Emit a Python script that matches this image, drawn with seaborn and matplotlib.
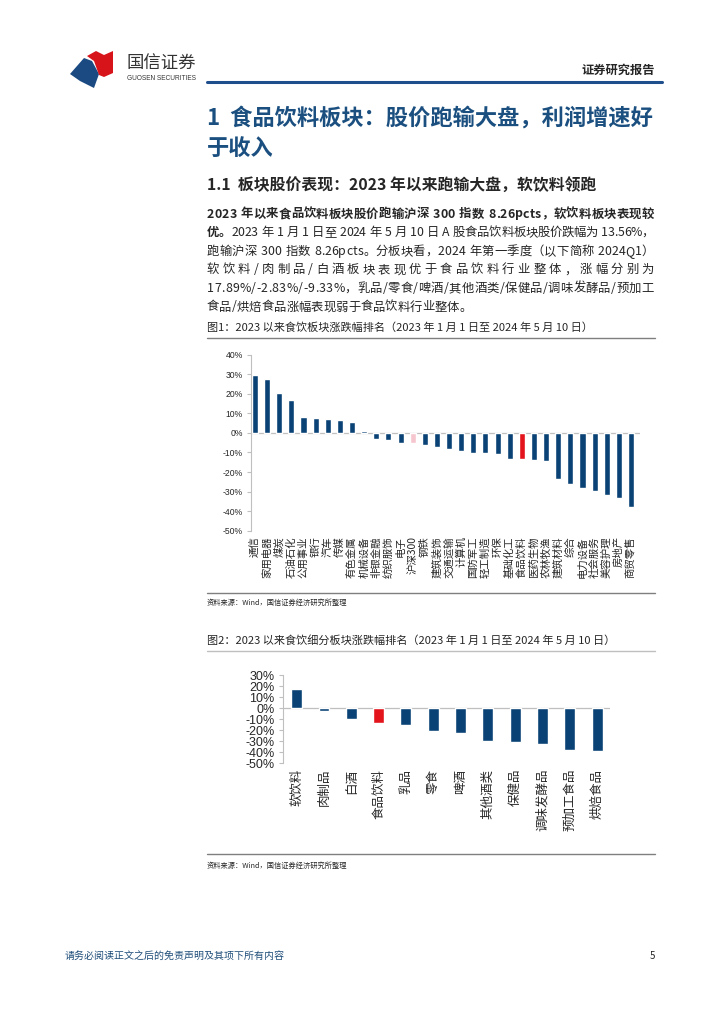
import matplotlib
matplotlib.use("Agg")
import matplotlib.pyplot as plt
from matplotlib.lines import Line2D
from matplotlib.patches import Polygon
import seaborn as sns

# chart 1: industry returns since 2023 (%)
industries = ["通信", "家用电器", "煤炭", "石油石化", "公用事业", "银行", "汽车", "传媒",
              "有色金属", "机械设备", "非银金融", "纺织服饰", "电子", "沪深300", "钢铁",
              "建筑装饰", "交通运输", "计算机", "国防军工", "轻工制造", "环保", "基础化工",
              "食品饮料", "医药生物", "农林牧渔", "建筑材料", "综合", "电力设备", "社会服务",
              "美容护理", "房地产", "商贸零售"]
industry_returns = [29.8, 27.3, 20.5, 16.8, 8.1, 7.8, 6.9, 6.6, 5.4, 0.8, -2.9, -3.7,
                    -5.2, -5.3, -6.3, -7.1, -8.3, -9.2, -10.5, -10.5, -11.0, -13.4,
                    -13.56, -14.1, -14.6, -23.6, -26.1, -28.3, -29.5, -32.0, -33.4, -38.0]

# chart 2: food & beverage segments (%)
segments = ["软饮料", "肉制品", "白酒", "食品饮料", "乳品", "零食", "啤酒", "其他酒类",
            "保健品", "调味发酵品", "预加工食品", "烘焙食品"]
segment_returns = [17.89, -2.83, -9.33, -13.56, -15.2, -20.6, -22.7, -29.4, -30.9,
                   -32.1, -37.9, -38.8]

y1_ticks = [40, 30, 20, 10, 0, -10, -20, -30, -40, -50]
y2_ticks = [30, 20, 10, 0, -10, -20, -30, -40, -50]

# body paragraph, one entry per printed line: (text, weight) pieces
body_lines = [
    [("2023 年以来食品饮料板块股价跑输沪深 300 指数 8.26pcts，软饮料板块表现较", "bold")],
    [("优。", "bold"), ("2023 年 1 月 1 日至 2024 年 5 月 10 日 A 股食品饮料板块股价跌幅为 13.56%，", "normal")],
    [("跑输沪深 300 指数 8.26pcts。分板块看，2024 年第一季度（以下简称 2024Q1）", "normal")],
    [("软饮料/肉制品/白酒板块表现优于食品饮料行业整体，涨幅分别为", "normal")],
    [("17.89%/-2.83%/-9.33%，乳品/零食/啤酒/其他酒类/保健品/调味发酵品/预加工", "normal")],
    [("食品/烘焙食品涨幅表现弱于食品饮料行业整体。", "normal")],
]

NAVY = "#0b4275"
RED = "#e3141c"
PINK = "#f6c6ce"
TITLE_BLUE = "#1a4f80"
W, H = 724, 1024


def fx(x):
    return x / W


def fy(y):
    return 1 - y / H


def bar_colors(labels):
    cmap = {"沪深300": PINK, "食品饮料": RED}
    return {lab: cmap.get(lab, NAVY) for lab in labels}


def draw_bars(ax, labels, values, width, xlim, ylim, ticks, tick_size, label_size):
    sns.barplot(x=labels, y=values, hue=labels, palette=bar_colors(labels),
                order=labels, hue_order=labels, legend=False, width=width,
                saturation=1, ax=ax, zorder=2)
    ax.axhline(0, color="#bfbfbf", lw=0.9, zorder=1)
    ax.set_xlim(*xlim)
    ax.set_ylim(*ylim)
    ax.set_yticks(ticks)
    ax.set_yticklabels([f"{t}%" for t in ticks], fontsize=tick_size,
                       family=["Liberation Sans", "DejaVu Sans"])
    ax.set_xticks(range(len(labels)))
    ax.set_xticklabels(labels, rotation=90, fontsize=label_size)
    ax.tick_params(axis="x", length=0, pad=4)
    ax.tick_params(axis="y", length=3, color="#bfbfbf", width=0.8, pad=3, direction="out", left=True)
    for side in ["top", "right", "bottom"]:
        ax.spines[side].set_visible(False)
    ax.spines["left"].set_color("#bfbfbf")
    ax.spines["left"].set_linewidth(0.8)
    ax.set_xlabel("")
    ax.set_ylabel("")
    ax.grid(False)
    ax.set_facecolor("none")


def hline(fig, x0, x1, y, color, lw):
    fig.add_artist(Line2D([fx(x0), fx(x1)], [fy(y), fy(y)], transform=fig.transFigure,
                          color=color, lw=lw))


def text_line(fig, pieces, y, x0, x1, fs, justify):
    # lay the line out one character at a time so it can be stretched to the margins
    renderer = fig.canvas.get_renderer()
    chars = []
    for txt, weight in pieces:
        for ch in txt:
            t = fig.text(0, fy(y), ch, fontsize=fs, fontweight=weight, va="center")
            w = t.get_window_extent(renderer).width if ch != " " else fs * 100 / 72 * 0.3
            chars.append((t, w))
    total = sum(w for _, w in chars)
    gap = (x1 - x0 - total) / (len(chars) - 1) if justify else 0.0
    x = x0
    for t, w in chars:
        t.set_x(fx(x))
        x += w + gap


def main():
    sns.set_theme(style="white")
    plt.rcParams["font.family"] = ["Noto Sans CJK SC", "DejaVu Sans"]
    plt.rcParams["axes.unicode_minus"] = False

    fig = plt.figure(figsize=(W / 100, H / 100), dpi=100)
    fig.patch.set_facecolor("white")

    # header: logo, company name, report tag, blue rule
    blue_shape = [(70, 74), (84, 58), (92, 61), (99, 74), (94, 88), (88, 85), (80, 81)]
    red_shape = [(87, 56), (96, 51), (104, 55), (113, 51), (113, 73), (104, 77), (99, 75), (94, 61)]
    fig.add_artist(Polygon([(fx(x), fy(y)) for x, y in blue_shape], closed=True,
                           transform=fig.transFigure, color="#1b4a82", lw=0))
    fig.add_artist(Polygon([(fx(x), fy(y)) for x, y in red_shape], closed=True,
                           transform=fig.transFigure, color="#d7141a", lw=0))
    fig.text(fx(126), fy(64), "国信证券", fontsize=12.5, fontweight="medium", color="#333333", va="center")
    fig.text(fx(127), fy(79), "GUOSEN SECURITIES", fontsize=4.7, color="#333333", va="center",
             family=["Liberation Sans"])
    fig.text(fx(655), fy(70), "证券研究报告", fontsize=8.8, fontweight="bold", ha="right", va="center")
    hline(fig, 207, 662, 82, "#1f4e8c", 2.2)

    # headings
    fig.text(fx(207), fy(118), "1  食品饮料板块：股价跑输大盘，利润增速好", fontsize=16,
             fontweight="bold", color=TITLE_BLUE, va="center")
    fig.text(fx(207), fy(148), "于收入", fontsize=16, fontweight="bold", color=TITLE_BLUE, va="center")
    fig.text(fx(207), fy(186), "1.1  板块股价表现：2023 年以来跑输大盘，软饮料领跑", fontsize=11.4,
             fontweight="bold", va="center")

    # body paragraph
    for i, pieces in enumerate(body_lines):
        last = i == len(body_lines) - 1
        text_line(fig, pieces, 214 + 18.6 * i, 207, 654, 8.9, justify=not last)

    # figure 1
    fig.text(fx(207), fy(328), "图1：2023 以来食饮板块涨跌幅排名（2023 年 1 月 1 日至 2024 年 5 月 10 日）",
             fontsize=8.0, va="center")
    hline(fig, 207, 655, 338, "#7f7f7f", 1.0)
    ax1 = fig.add_axes([fx(251), fy(530.7), (640 - 251) / W, (530.7 - 354.6) / H])
    draw_bars(ax1, industries, industry_returns, 0.5, (-0.33, 31.74), (-50, 40), y1_ticks, 6.2, 7.5)
    hline(fig, 207, 655, 593, "#7f7f7f", 1.0)
    fig.text(fx(207), fy(603), "资料来源：Wind，国信证券经济研究所整理", fontsize=5.2, va="center")

    # figure 2
    fig.text(fx(207), fy(640), "图2：2023 以来食饮细分板块涨跌幅排名（2023 年 1 月 1 日至 2024 年 5 月 10 日）",
             fontsize=8.0, va="center")
    hline(fig, 207, 655, 651, "#bfbfbf", 1.0)
    ax2 = fig.add_axes([fx(283), fy(763.3), (610 - 283) / W, (763.3 - 675.3) / H])
    draw_bars(ax2, segments, segment_returns, 0.4, (-0.5, 11.47), (-50, 30), y2_ticks, 9, 9)
    hline(fig, 207, 655, 854, "#7f7f7f", 1.0)
    fig.text(fx(207), fy(866), "资料来源：Wind，国信证券经济研究所整理", fontsize=5.2, va="center")

    # footer
    fig.text(fx(65), fy(956), "请务必阅读正文之后的免责声明及其项下所有内容", fontsize=7.2,
             color="#1f4e79", va="center")
    fig.text(fx(655), fy(956), "5", fontsize=7, ha="right", va="center")

    fig.savefig("out.png", dpi=100)
    plt.close(fig)


if __name__ == "__main__":
    main()
